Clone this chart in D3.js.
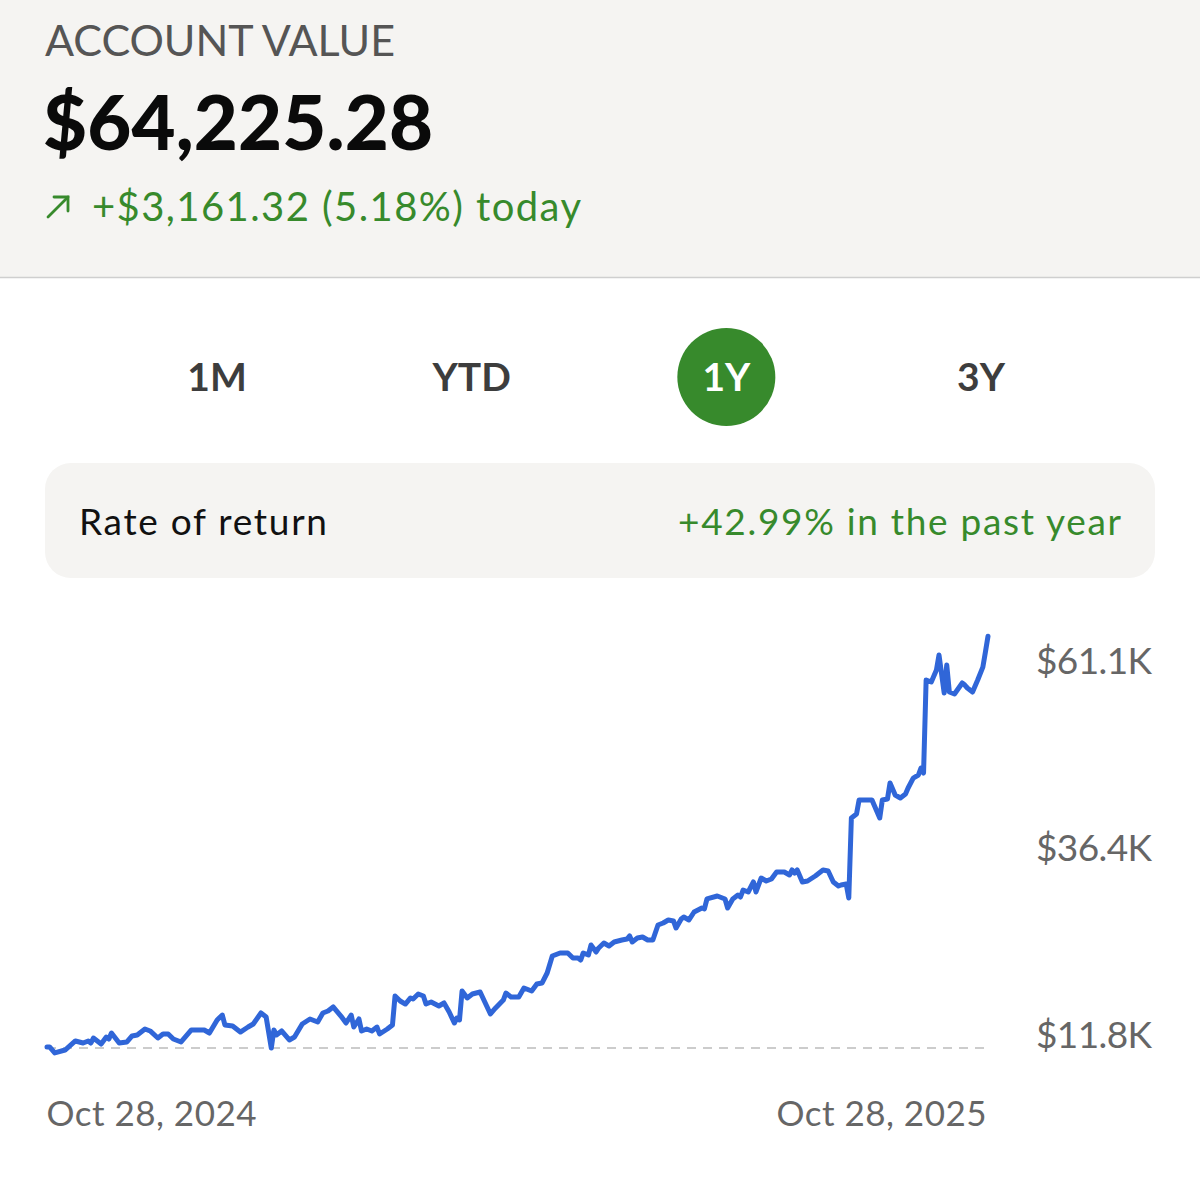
<!DOCTYPE html>
<html>
<head>
<meta charset="utf-8">
<script src="https://cdn.jsdelivr.net/npm/d3@7"></script>
<style>
  html, body { margin: 0; padding: 0; background: #ffffff; }
  svg { display: block; }
  text { font-family: Lato, "Noto Sans", sans-serif; }
</style>
</head>
<body>
<svg id="chart" width="1200" height="1199"></svg>
<script>
// ---------- data ----------
const startDate = "2024-10-28";
const dayOffsets = [0,1,3,7,11,14,16,17,18,21,23,24,25,28,31,33,35,38,40,43,45,47,49,52,56,61,63,66,68,69,72,75,78,80,83,85,87,88,89,91,94,96,99,102,105,107,109,111,114,116,118,119,121,122,124,126,128,129,132,134,135,137,139,141,142,144,146,147,149,152,154,156,158,159,160,161,163,165,168,170,172,174,177,178,180,183,185,188,190,192,194,196,199,202,204,206,207,208,210,211,213,214,216,218,220,223,225,226,227,229,231,233,235,237,239,241,243,244,246,247,249,251,254,255,256,260,263,264,266,268,269,270,272,274,275,277,279,281,283,286,288,289,290,291,293,295,298,301,303,305,307,308,310,311,312,314,315,317,320,321,323,324,326,327,329,331,333,334,336,338,339,340,341,343,345,346,348,349,350,352,355,356,357,359,361,363,364,365];
const valuesK = [10.09,10.09,9.30,9.69,10.88,10.61,10.88,10.61,11.27,10.48,11.40,11.14,11.93,10.61,10.75,11.54,11.67,12.46,12.20,11.27,11.80,11.80,11.14,10.75,12.33,12.33,11.93,13.65,14.30,12.99,12.85,12.06,12.72,13.12,14.57,14.04,9.95,12.33,11.67,12.20,11.01,11.40,13.12,13.78,13.38,14.57,14.83,15.36,14.17,13.25,14.30,12.72,13.78,12.20,12.46,12.20,12.72,11.80,12.46,12.99,16.81,16.15,15.75,16.55,16.41,17.07,16.81,15.75,16.02,15.49,15.89,14.70,13.25,13.91,13.65,17.47,16.55,17.07,17.34,15.89,14.44,15.23,16.28,17.20,16.68,16.68,17.86,17.47,18.39,18.52,19.84,22.08,22.48,22.48,21.82,21.82,21.55,22.48,22.21,23.53,22.61,23.14,23.79,23.40,23.93,24.19,24.32,24.72,23.93,24.45,24.59,24.19,24.19,26.17,26.43,26.83,26.70,25.77,26.96,27.22,26.83,27.88,28.41,28.28,29.60,29.99,29.60,28.41,29.60,30.12,29.86,30.78,30.52,31.84,30.52,32.36,31.97,32.23,33.15,33.15,32.76,33.42,33.02,33.42,31.84,31.97,32.63,33.42,33.28,31.84,31.31,31.44,31.57,29.73,40.27,40.80,42.64,42.64,42.64,41.85,40.27,42.64,42.78,44.89,43.30,42.91,43.43,44.23,45.54,45.94,46.86,46.20,58.46,58.20,59.78,61.76,56.75,60.44,56.88,56.62,58.07,57.80,57.41,56.88,58.46,60.17,62.15,64.23];
const yTickValues = [11.8, 36.4, 61.1];
const periods = ["1M", "YTD", "1Y", "3Y"];
const activePeriod = "1Y";
const headerTitle = "ACCOUNT VALUE";
const accountValue = 64225.28;
const dayChange = 3161.32;
const dayChangePct = 5.18;
const rateLabel = "Rate of return";
const rateOfReturn = 42.99;

// ---------- styles ----------
const GREEN = "#378a2c";
const BLUE = "#3066d8";
const GRAY_TXT = "#666666";

const svg = d3.select("#chart");
const W = 1200, H = 1199;

// header panel
svg.append("rect").attr("x", 0).attr("y", 0).attr("width", W).attr("height", 277).attr("fill", "#f5f4f2");
svg.append("line").attr("x1", 0).attr("x2", W).attr("y1", 277.5).attr("y2", 277.5).attr("stroke", "#cfcfcf").attr("stroke-width", 1.5);

svg.append("text").attr("x", 45).attr("y", 56)
  .attr("font-size", 43).attr("fill", "#555555").attr("textLength", 350)
  .text(headerTitle);

svg.append("text").attr("x", 43).attr("y", 150)
  .attr("font-size", 76).attr("font-weight", 900).attr("fill", "#0a0a0a").attr("textLength", 390)
  .text(d3.format("$,.2f")(accountValue));

// arrow
const arrow = svg.append("g").attr("stroke", GREEN).attr("stroke-width", 2.8).attr("fill", "none").attr("stroke-linecap", "round");
arrow.append("line").attr("x1", 48).attr("y1", 217).attr("x2", 68).attr("y2", 197);
arrow.append("polyline").attr("points", "54,197 68,197 68,211");

svg.append("text").attr("x", 92).attr("y", 221)
  .attr("font-size", 40).attr("fill", GREEN).attr("textLength", 489)
  .text("+" + d3.format("$,.2f")(dayChange) + " (" + dayChangePct.toFixed(2) + "%) today");

// period tabs
const tabX = d3.scalePoint().domain(periods).range([217, 981]);
const tabs = svg.append("g").selectAll("g").data(periods).join("g")
  .attr("transform", d => `translate(${tabX(d)},377)`);
tabs.filter(d => d === activePeriod).append("circle").attr("r", 49).attr("fill", GREEN);
tabs.append("text").attr("text-anchor", "middle").attr("dy", "0.36em")
  .attr("font-size", 39).attr("font-weight", 700)
  .attr("fill", d => d === activePeriod ? "#ffffff" : "#3d3d3d")
  .text(d => d);

// rate of return box
svg.append("rect").attr("x", 45).attr("y", 463).attr("width", 1110).attr("height", 115).attr("rx", 26).attr("fill", "#f5f4f2");
svg.append("text").attr("x", 79).attr("y", 535).attr("font-size", 37).attr("fill", "#111111").attr("textLength", 248).text(rateLabel);
svg.append("text").attr("x", 1121).attr("y", 535).attr("text-anchor", "end").attr("font-size", 37).attr("fill", GREEN).attr("textLength", 443)
  .text("+" + rateOfReturn.toFixed(2) + "% in the past year");

// ---------- chart ----------
const parse = d3.timeParse("%Y-%m-%d");
const t0 = parse(startDate);
const data = dayOffsets.map((d, i) => ({ date: d3.timeDay.offset(t0, d), v: valuesK[i] }));
const tEnd = d3.timeDay.offset(t0, d3.max(dayOffsets));

const x = d3.scaleTime().domain([t0, tEnd]).range([47, 988]);
const y = d3.scaleLinear().domain([yTickValues[0], yTickValues[2]]).range([1034, 660]);

// baseline (start value) dashed
svg.append("line")
  .attr("x1", x(t0)).attr("x2", x(tEnd))
  .attr("y1", y(valuesK[0]) + 1).attr("y2", y(valuesK[0]) + 1)
  .attr("stroke", "#cccccc").attr("stroke-width", 2).attr("stroke-dasharray", "9,7");

// y axis labels
const yAxis = d3.axisRight(y).tickValues(yTickValues).tickSize(0).tickPadding(0)
  .tickFormat(d => "$" + d3.format(".1f")(d) + "K");
const gy = svg.append("g").attr("transform", "translate(1036,0)").call(yAxis);
gy.select(".domain").remove();
gy.selectAll("text").attr("font-size", 37).attr("fill", GRAY_TXT).attr("dy", "0.36em").attr("textLength", 116)
  .style("font-family", "Lato, 'Noto Sans', sans-serif");

// x axis labels
const xAxis = d3.axisBottom(x).tickValues([t0, tEnd]).tickSize(0).tickPadding(0)
  .tickFormat(d3.timeFormat("%b %-d, %Y"));
const gx = svg.append("g").attr("transform", "translate(0,1126)").call(xAxis);
gx.select(".domain").remove();
gx.selectAll("text").attr("font-size", 35).attr("fill", GRAY_TXT).attr("dy", 0).attr("textLength", 210)
  .style("font-family", "Lato, 'Noto Sans', sans-serif")
  .attr("text-anchor", (d, i) => i === 0 ? "start" : "end")
  .attr("x", (d, i) => i === 0 ? -1 : -2);

// line
const line = d3.line().x(d => x(d.date)).y(d => y(d.v));
svg.append("path").datum(data)
  .attr("d", line)
  .attr("fill", "none").attr("stroke", BLUE).attr("stroke-width", 5)
  .attr("stroke-linejoin", "round").attr("stroke-linecap", "round");
</script>
</body>
</html>
